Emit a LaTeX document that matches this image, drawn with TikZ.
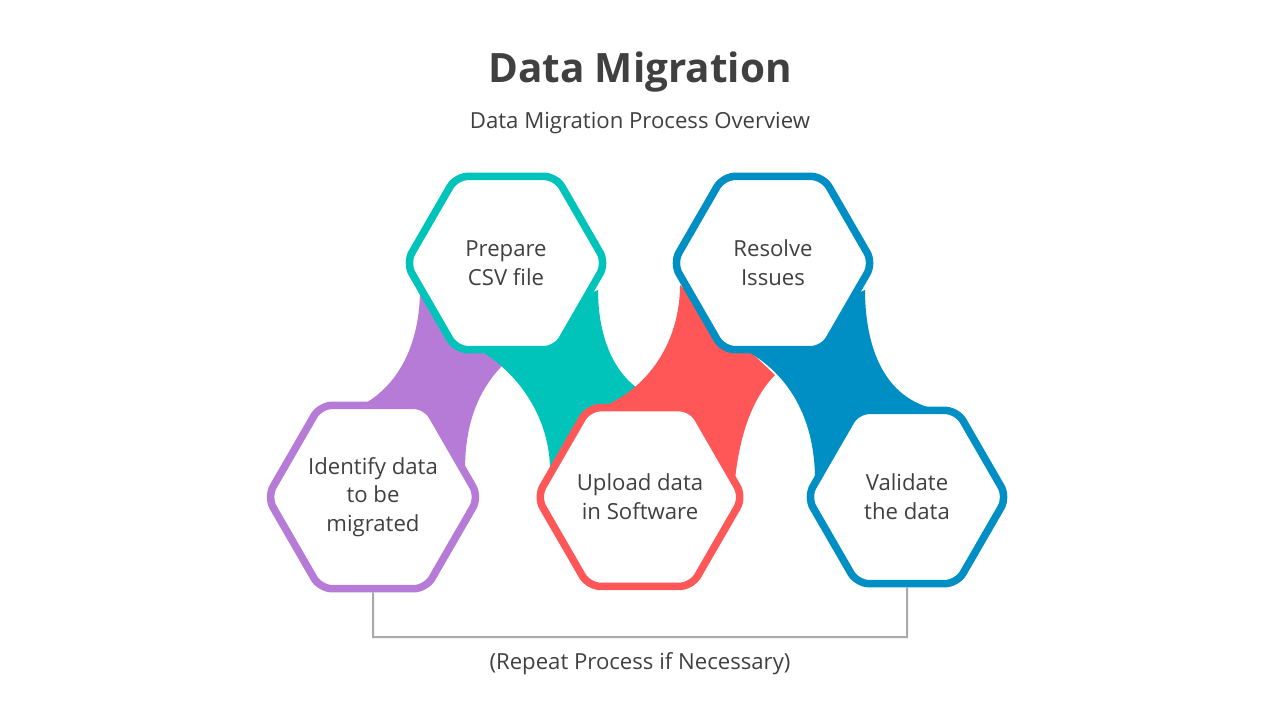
\documentclass[tikz,border=0pt]{standalone}
\usepackage{fontspec}
\setmainfont{Open Sans}
\usetikzlibrary{shapes.geometric,shadows,backgrounds}
\definecolor{txtgray}{HTML}{404040}
\definecolor{migpurple}{HTML}{B57BD6}
\definecolor{migteal}{HTML}{00C4BA}
\definecolor{migred}{HTML}{FF5757}
\definecolor{migblue}{HTML}{008FC4}
\definecolor{linegray}{HTML}{AAAAAA}
\tikzset{
  hexstep/.style={regular polygon, regular polygon sides=6, minimum size=2.0cm,
    inner sep=0pt, draw=#1, fill=white, line width=0.075cm, rounded corners=0.12cm,
    align=center, text=txtgray, font=\fontsize{6.3}{8.2}\selectfont,
    drop shadow={opacity=0.25, shadow xshift=0pt, shadow yshift=-0.5pt}},
}
\begin{document}
\begin{tikzpicture}[x=0.01cm, y=-0.01cm]
  \useasboundingbox (0,0) rectangle (1280,720);
  % Titel
  \node[text=txtgray, font=\fontsize{11.5}{13}\selectfont\bfseries] (title) at (640,72) {Data Migration};
  \node[text=txtgray, font=\fontsize{6.3}{8}\selectfont] (sub) at (640,123) {Data Migration Process Overview};
  % Sechsecke
  \node[hexstep=migpurple] (identify) at (373,497) {Identify data\\to be\\migrated};
  \node[hexstep=migteal] (prepare) at (506,263) {Prepare\\CSV file};
  \node[hexstep=migred] (upload) at (640,497) {Upload data\\in Software};
  \node[hexstep=migblue] (resolve) at (773,263) {Resolve\\Issues};
  \node[hexstep=migblue] (validate) at (907,497) {Validate\\the data};
  % Verbindungen
  \begin{scope}[on background layer]
    \fill[migpurple] (335,415) .. controls (400,400) and (420,340) .. (420,290)
      -- (520,350) .. controls (480,380) and (465,420) .. (465,470) -- cycle;
    \fill[migteal] (470,345) .. controls (520,370) and (550,420) .. (550,470)
      -- (640,390) .. controls (610,370) and (598,330) .. (598,290) -- cycle;
    \fill[migred] (680,285) .. controls (680,340) and (650,390) .. (595,410)
      -- (735,480) .. controls (740,430) and (755,395) .. (775,375) -- cycle;
    \fill[migblue] (735,345) .. controls (790,370) and (815,420) .. (815,480)
      -- (940,410) .. controls (880,400) and (865,340) .. (865,290) -- cycle;
  \end{scope}
  % Klammer
  \coordinate (bl) at (373,637);
  \coordinate (br) at (907,637);
  \draw[linegray, line width=0.02cm] (identify.south) -- (bl) -- (br) -- (validate.south);
  \node[text=txtgray, font=\fontsize{6.3}{8}\selectfont] (repeat) at (640,664) {(Repeat Process if Necessary)};
\end{tikzpicture}
\end{document}
